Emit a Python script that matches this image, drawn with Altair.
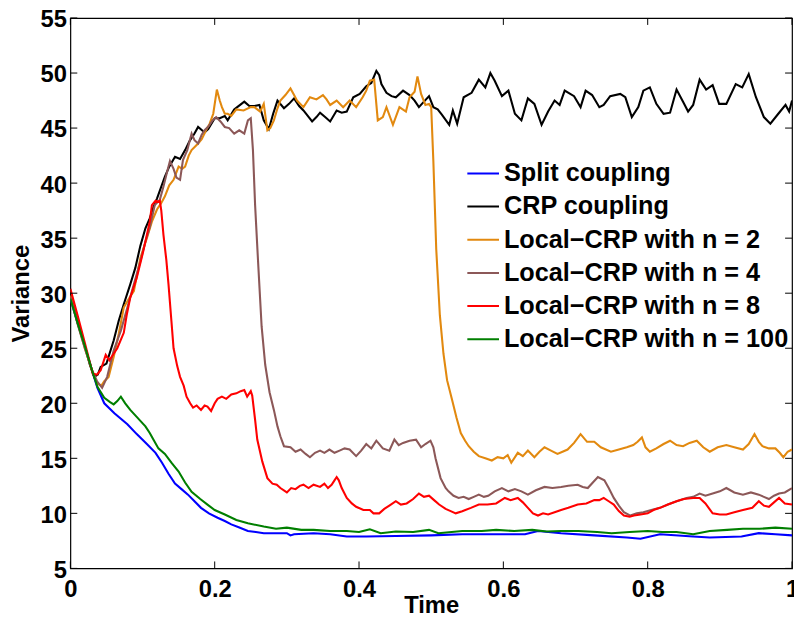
import altair as alt
import pandas as pd

SERIES = [
    "Split coupling",
    "CRP coupling",
    "Local\u2212CRP with n = 2",
    "Local\u2212CRP with n = 4",
    "Local\u2212CRP with n = 8",
    "Local\u2212CRP with n = 100",
]
COLORS = ["#0000FF", "#000000", "#E2890F", "#8C5858", "#FF0000", "#007F00"]

XTICKS = [0, 0.2, 0.4, 0.6, 0.8, 1]
YTICKS = [5, 10, 15, 20, 25, 30, 35, 40, 45, 50, 55]

split_t = [0, 0.01, 0.02, 0.03, 0.0375, 0.047, 0.061, 0.079, 0.092, 0.106, 0.118, 0.127, 0.136, 0.145,
           0.154, 0.163, 0.172, 0.181, 0.192, 0.204, 0.214, 0.223, 0.235, 0.246, 0.257, 0.268, 0.285,
           0.3, 0.305, 0.31, 0.337, 0.36, 0.383, 0.41, 0.451, 0.5, 0.543, 0.59, 0.63, 0.648, 0.68,
           0.726, 0.771, 0.79, 0.817, 0.863, 0.886, 0.93, 0.954, 0.977, 1.0]
split_v = [29.5, 27.3, 25.2, 23.0, 21.4, 20.0, 19.1, 18.1, 17.2, 16.3, 15.5, 14.6, 13.6, 12.7,
           12.2, 11.7, 11.1, 10.5, 10.0, 9.6, 9.3, 9.0, 8.7, 8.4, 8.3, 8.2, 8.2,
           8.2, 8.0, 8.1, 8.2, 8.1, 7.9, 7.9, 7.95, 8.0, 8.1, 8.1, 8.1, 8.4, 8.2,
           8.0, 7.8, 7.7, 8.1, 7.9, 7.8, 7.9, 8.2, 8.1, 8.0]

crp_t = [0, 0.01, 0.02, 0.027, 0.033, 0.038, 0.042, 0.05, 0.06, 0.067, 0.074, 0.083, 0.09, 0.097,
         0.104, 0.11, 0.115, 0.12, 0.125, 0.131, 0.137, 0.145, 0.152, 0.159, 0.165, 0.172, 0.177,
         0.186, 0.191, 0.2, 0.207, 0.214, 0.218, 0.227, 0.233, 0.241, 0.248, 0.255, 0.262, 0.268,
         0.275, 0.281, 0.287, 0.296, 0.303, 0.31, 0.317, 0.323, 0.335, 0.341, 0.346, 0.353, 0.36,
         0.369, 0.376, 0.383, 0.392, 0.401, 0.41, 0.417, 0.424, 0.428, 0.431, 0.438, 0.445, 0.451,
         0.461, 0.47, 0.477, 0.483, 0.49, 0.497, 0.503, 0.509, 0.515, 0.525, 0.53, 0.536, 0.545,
         0.556, 0.566, 0.575, 0.582, 0.588, 0.598, 0.607, 0.616, 0.625, 0.634, 0.643, 0.653, 0.662,
         0.671, 0.678, 0.685, 0.698, 0.707, 0.714, 0.723, 0.733, 0.739, 0.748, 0.762, 0.769, 0.778,
         0.787, 0.794, 0.803, 0.812, 0.822, 0.831, 0.84, 0.849, 0.856, 0.863, 0.872, 0.881, 0.89,
         0.899, 0.909, 0.922, 0.931, 0.94, 0.95, 0.961, 0.97, 0.981, 0.991, 0.996, 1.0]
crp_v = [30.0, 27.5, 25.2, 23.5, 22.4, 22.6, 23.3, 23.6, 25.7, 27.5, 29.0, 30.8, 32.3, 34.3,
         35.9, 36.8, 37.8, 38.6, 39.5, 40.6, 41.5, 42.4, 42.2, 43.0, 43.8, 44.5, 45.1,
         44.6, 44.9, 45.9, 45.9, 46.1, 45.7, 46.7, 47.0, 47.4, 47.0, 47.0, 47.1, 45.7,
         44.9, 46.3, 47.5, 46.8, 47.2, 47.7, 47.0, 46.6, 45.6, 46.0, 46.4, 46.0, 45.6,
         46.6, 46.4, 46.5, 47.8, 48.1, 48.8, 49.1, 50.2, 49.8, 49.0, 48.2, 47.9, 47.8,
         48.4, 48.0, 47.5, 46.9, 47.4, 47.9, 46.9, 46.7, 46.2, 45.3, 46.6, 45.4, 47.8,
         48.2, 49.4, 48.7, 50.0, 49.3, 47.9, 48.4, 46.3, 45.7, 47.7, 47.2, 45.3, 46.5,
         47.5, 47.1, 48.4, 47.9, 46.9, 48.4, 48.0, 46.9, 47.1, 47.9, 48.1, 47.8, 46.0,
         46.9, 48.4, 48.7, 47.2, 46.3, 46.4, 48.5, 47.4, 46.5, 47.1, 49.4, 48.5, 48.9,
         47.2, 47.2, 49.0, 48.7, 49.9, 47.8, 46.0, 45.4, 46.3, 47.1, 46.5, 47.5]

n2_t = [0, 0.01, 0.02, 0.03, 0.037, 0.043, 0.047, 0.053, 0.06, 0.067, 0.074, 0.081, 0.088, 0.097,
        0.106, 0.113, 0.12, 0.126, 0.131, 0.137, 0.143, 0.15, 0.155, 0.159, 0.164, 0.168, 0.177,
        0.182, 0.188, 0.193, 0.198, 0.203, 0.207, 0.21, 0.214, 0.218, 0.223, 0.23, 0.24, 0.25,
        0.255, 0.263, 0.268, 0.273, 0.277, 0.282, 0.287, 0.291, 0.298, 0.305, 0.31, 0.314, 0.323,
        0.332, 0.341, 0.35, 0.355, 0.36, 0.369, 0.378, 0.387, 0.396, 0.405, 0.41, 0.415, 0.421,
        0.426, 0.433, 0.438, 0.447, 0.456, 0.465, 0.47, 0.477, 0.481, 0.486, 0.492, 0.497, 0.5,
        0.503, 0.507, 0.512, 0.517, 0.522, 0.529, 0.535, 0.541, 0.547, 0.552, 0.559, 0.566, 0.575,
        0.584, 0.592, 0.6, 0.606, 0.611, 0.62, 0.627, 0.634, 0.643, 0.65, 0.657, 0.666, 0.675,
        0.682, 0.689, 0.698, 0.707, 0.716, 0.726, 0.735, 0.749, 0.76, 0.771, 0.78, 0.786, 0.792,
        0.797, 0.803, 0.812, 0.822, 0.831, 0.84, 0.849, 0.858, 0.868, 0.877, 0.886, 0.897, 0.909,
        0.92, 0.932, 0.94, 0.948, 0.954, 0.959, 0.968, 0.977, 0.983, 0.988, 0.994, 1.0]
n2_v = [29.8, 27.3, 25.0, 23.0, 21.8, 21.6, 22.0, 22.4, 24.2, 26.3, 28.7, 29.5, 30.2, 33.2,
        35.0, 36.5, 37.6, 38.2, 38.8, 39.8, 40.3, 41.5, 41.3, 41.5, 42.5, 43.0, 43.6,
        44.0, 44.8, 45.4, 46.3, 48.5, 47.5, 46.9, 46.3, 46.3, 46.1, 46.7, 46.6, 46.9,
        46.9, 46.5, 47.2, 44.8, 45.0, 45.7, 46.8, 47.5, 48.0, 48.6, 48.0, 47.5, 46.9,
        47.8, 47.6, 48.0, 47.6, 47.1, 47.5, 46.9, 47.5, 46.9, 47.8, 48.4, 49.3, 49.4,
        45.7, 46.0, 46.9, 45.3, 46.9, 46.5, 47.8, 48.3, 49.7, 48.1, 47.1, 47.2, 46.9,
        42.0, 34.0, 28.0, 24.5, 22.1, 20.3, 18.7, 17.3, 16.6, 16.1, 15.6, 15.2, 15.0,
        14.8, 15.1, 15.0, 15.3, 14.6, 15.5, 15.2, 15.7, 15.1, 15.6, 16.0, 15.7, 15.4,
        15.6, 15.8, 16.4, 17.2, 16.5, 16.5, 16.0, 15.6, 15.8, 16.0, 16.2, 16.5, 16.9,
        16.0, 15.6, 15.9, 16.3, 16.6, 16.2, 16.1, 16.4, 16.6, 16.0, 15.6, 16.0, 16.2,
        16.0, 15.8, 16.3, 17.2, 16.5, 16.1, 15.9, 15.9, 15.5, 15.1, 15.6, 15.8]

n4_t = [0, 0.01, 0.02, 0.03, 0.037, 0.044, 0.051, 0.06, 0.07, 0.079, 0.088, 0.097, 0.104, 0.11,
        0.117, 0.124, 0.129, 0.134, 0.138, 0.143, 0.147, 0.152, 0.156, 0.162, 0.168, 0.172, 0.177,
        0.182, 0.186, 0.192, 0.197, 0.202, 0.208, 0.214, 0.22, 0.227, 0.234, 0.241, 0.246, 0.25,
        0.253, 0.256, 0.26, 0.265, 0.27, 0.276, 0.282, 0.287, 0.291, 0.296, 0.305, 0.312, 0.319,
        0.326, 0.332, 0.339, 0.346, 0.352, 0.359, 0.366, 0.373, 0.38, 0.387, 0.396, 0.403, 0.41,
        0.417, 0.424, 0.433, 0.442, 0.449, 0.455, 0.461, 0.47, 0.479, 0.486, 0.492, 0.499, 0.503,
        0.506, 0.513, 0.52, 0.524, 0.531, 0.538, 0.545, 0.552, 0.559, 0.566, 0.573, 0.579, 0.588,
        0.598, 0.607, 0.616, 0.625, 0.634, 0.645, 0.657, 0.668, 0.68, 0.69, 0.703, 0.71, 0.717,
        0.724, 0.731, 0.74, 0.746, 0.753, 0.76, 0.767, 0.776, 0.785, 0.794, 0.805, 0.817, 0.828,
        0.84, 0.854, 0.863, 0.872, 0.88, 0.89, 0.9, 0.909, 0.92, 0.932, 0.943, 0.954, 0.961, 0.968,
        0.975, 0.982, 0.99, 1.0]
n4_v = [29.7, 27.2, 25.0, 23.0, 22.0, 21.4, 22.4, 24.8, 26.6, 28.7, 30.8, 32.9, 34.7, 36.0,
        38.0, 38.5, 39.7, 41.0, 42.0, 41.3, 40.5, 40.3, 42.1, 43.0, 44.5, 43.9, 43.6,
        44.4, 44.8, 45.2, 45.7, 46.0, 45.6, 45.1, 45.0, 44.5, 44.8, 44.5, 45.7, 45.9,
        43.0, 38.0, 33.0, 27.0, 23.5, 21.0, 19.4, 17.9, 17.0, 16.1, 16.0, 15.6, 15.8,
        15.4, 15.1, 15.5, 15.7, 15.5, 15.8, 15.5, 15.7, 15.9, 15.8, 15.2, 15.7, 16.3,
        15.9, 16.6, 15.9, 15.7, 16.7, 16.2, 16.4, 16.6, 16.7, 16.0, 16.3, 16.6, 16.0,
        15.0, 13.2, 12.3, 12.0, 11.6, 11.4, 11.5, 11.3, 11.5, 11.7, 11.5, 11.6, 12.0,
        12.3, 12.0, 12.2, 12.0, 11.7, 12.1, 12.4, 12.3, 12.4, 12.5, 12.6, 12.4, 12.3,
        12.8, 13.3, 13.0, 12.3, 11.4, 10.7, 10.1, 9.8, 10.0, 10.1, 10.3, 10.5, 10.8,
        11.1, 11.4, 11.5, 11.8, 11.6, 11.8, 12.0, 12.3, 11.9, 11.7, 11.9, 11.7, 11.5, 11.3,
        11.6, 11.8, 11.9, 12.3]

n8_t = [0, 0.01, 0.02, 0.031, 0.037, 0.042, 0.049, 0.054, 0.06, 0.065, 0.074, 0.078, 0.083, 0.092,
        0.101, 0.11, 0.113, 0.118, 0.122, 0.124, 0.126, 0.129, 0.133, 0.136, 0.14, 0.143, 0.148,
        0.152, 0.157, 0.161, 0.166, 0.17, 0.175, 0.181, 0.186, 0.19, 0.195, 0.2, 0.204, 0.21,
        0.216, 0.223, 0.23, 0.236, 0.241, 0.245, 0.25, 0.252, 0.256, 0.259, 0.266, 0.273, 0.28,
        0.286, 0.291, 0.3, 0.306, 0.312, 0.318, 0.323, 0.33, 0.337, 0.346, 0.352, 0.357, 0.362,
        0.366, 0.369, 0.372, 0.376, 0.383, 0.39, 0.396, 0.406, 0.415, 0.42, 0.428, 0.435, 0.442,
        0.451, 0.458, 0.466, 0.475, 0.483, 0.49, 0.497, 0.504, 0.511, 0.52, 0.527, 0.534, 0.543,
        0.555, 0.566, 0.578, 0.59, 0.602, 0.61, 0.62, 0.627, 0.634, 0.641, 0.648, 0.655, 0.662,
        0.671, 0.68, 0.69, 0.703, 0.715, 0.726, 0.733, 0.739, 0.746, 0.753, 0.76, 0.767, 0.775,
        0.781, 0.79, 0.8, 0.808, 0.817, 0.828, 0.84, 0.85, 0.863, 0.872, 0.88, 0.89, 0.9, 0.909,
        0.92, 0.932, 0.945, 0.954, 0.961, 0.968, 0.975, 0.982, 0.99, 1.0]
n8_v = [30.4, 28.0, 25.5, 22.7, 22.6, 23.0, 24.4, 23.9, 24.5, 25.0, 26.4, 28.0, 29.6, 31.4,
        33.8, 36.5, 38.0, 38.4, 38.3, 38.4, 37.5, 35.3, 33.0, 30.8, 27.5, 25.0, 23.4,
        22.4, 21.6, 20.6, 20.0, 19.6, 19.8, 19.4, 19.8, 19.7, 19.3, 20.0, 20.4, 20.6,
        20.4, 20.8, 20.9, 21.1, 21.2, 20.6, 21.1, 20.7, 18.5, 16.7, 14.7, 13.2, 12.7,
        12.6, 12.3, 11.9, 12.3, 12.2, 12.5, 12.6, 12.3, 12.6, 12.4, 12.7, 12.3, 12.6,
        13.0, 13.3, 13.0, 12.3, 11.4, 10.9, 10.6, 10.3, 10.3, 10.0, 10.0, 10.4, 10.7,
        11.1, 10.8, 10.9, 11.3, 11.8, 11.5, 11.6, 11.2, 10.8, 10.4, 10.2, 10.0, 10.2,
        10.5, 10.8, 10.8, 10.9, 11.4, 11.2, 11.4, 11.0, 10.5, 10.0, 9.8, 10.0, 9.9,
        10.1, 10.3, 10.5, 10.8, 10.9, 11.2, 11.2, 11.4, 11.1, 10.8, 10.2, 9.8, 9.7,
        9.8, 9.9, 10.0, 10.3, 10.5, 10.8, 11.1, 11.3, 11.4, 11.4, 10.9, 10.0, 9.9, 9.9,
        10.1, 10.3, 10.5, 11.1, 10.7, 10.6, 11.0, 11.4, 10.9, 10.8]

n100_t = [0, 0.01, 0.02, 0.03, 0.0375, 0.047, 0.055, 0.06, 0.065, 0.07, 0.076, 0.083, 0.09, 0.097,
          0.104, 0.11, 0.116, 0.122, 0.131, 0.14, 0.15, 0.159, 0.168, 0.18, 0.19, 0.2, 0.214,
          0.23, 0.246, 0.268, 0.285, 0.3, 0.32, 0.337, 0.36, 0.383, 0.4, 0.415, 0.43, 0.451,
          0.475, 0.497, 0.51, 0.543, 0.57, 0.59, 0.615, 0.64, 0.66, 0.68, 0.704, 0.73, 0.75,
          0.775, 0.8, 0.82, 0.84, 0.863, 0.886, 0.91, 0.932, 0.955, 0.977, 1.0]
n100_v = [29.5, 27.3, 25.2, 23.0, 21.5, 20.5, 20.1, 19.9, 20.2, 20.6, 20.0, 19.4, 18.9, 18.4,
          17.9, 17.3, 16.6, 15.9, 15.4, 14.6, 13.8, 12.8, 11.95, 11.3, 10.8, 10.3, 9.9,
          9.4, 9.1, 8.8, 8.6, 8.7, 8.5, 8.5, 8.4, 8.4, 8.3, 8.55, 8.2, 8.35,
          8.3, 8.5, 8.2, 8.4, 8.4, 8.5, 8.4, 8.5, 8.35, 8.4, 8.4, 8.3, 8.2,
          8.3, 8.4, 8.3, 8.3, 8.1, 8.4, 8.5, 8.6, 8.6, 8.7, 8.6]

TS = [split_t, crp_t, n2_t, n4_t, n8_t, n100_t]
VS = [split_v, crp_v, n2_v, n4_v, n8_v, n100_v]

frames = []
for name, ts, vs in zip(SERIES, TS, VS):
    frames.append(pd.DataFrame({"t": ts, "v": vs, "series": name}))
df = pd.concat(frames, ignore_index=True)

W, H = 729, 556
TL = 7
FONT = "Liberation Sans"

xscale = alt.Scale(domain=[0, 1], nice=False, zero=False)
yscale = alt.Scale(domain=[5, 55], nice=False, zero=False)

xaxis = alt.Axis(values=XTICKS, format="~g", ticks=False, domain=False, grid=False,
                 labelPadding=9, labelFlush=False,
                 titleY=45, titleBaseline="alphabetic")
yaxis = alt.Axis(values=YTICKS, ticks=False, domain=False, grid=False,
                 labelPadding=4, labelFlush=False, labelOffset=2, titlePadding=7)

lines = alt.Chart(df).mark_line(strokeWidth=2.1, clip=True).encode(
    x=alt.X("t:Q", scale=xscale, title="Time", axis=xaxis),
    y=alt.Y("v:Q", scale=yscale, title="Variance", axis=yaxis),
    color=alt.Color("series:N", sort=SERIES,
                    scale=alt.Scale(domain=SERIES, range=COLORS),
                    legend=alt.Legend(title=None, orient="none", legendX=400, legendY=140,
                                      direction="vertical", symbolType="stroke", symbolSize=1024,
                                      symbolStrokeWidth=2, labelFont=FONT, labelFontSize=25.5,
                                      labelFontWeight="bold", labelColor="black", labelOffset=4,
                                      rowPadding=2.5, padding=0, labelLimit=500)),
)

xt = pd.DataFrame({"t": XTICKS})
yt = pd.DataFrame({"v": YTICKS})

xb = alt.Chart(xt).mark_rule(color="black", strokeWidth=1).encode(
    x=alt.X("t:Q", scale=xscale, title="Time", axis=xaxis), y=alt.value(H), y2=alt.value(H - TL))
xtop = alt.Chart(xt).mark_rule(color="black", strokeWidth=1).encode(
    x=alt.X("t:Q", scale=xscale, title="Time", axis=xaxis), y=alt.value(0), y2=alt.value(TL))
yl = alt.Chart(yt).mark_rule(color="black", strokeWidth=1).encode(
    y=alt.Y("v:Q", scale=yscale, title="Variance", axis=yaxis), x=alt.value(0), x2=alt.value(TL))
yr = alt.Chart(yt).mark_rule(color="black", strokeWidth=1).encode(
    y=alt.Y("v:Q", scale=yscale, title="Variance", axis=yaxis), x=alt.value(W), x2=alt.value(W - TL))

chart = alt.layer(lines, xb, xtop, yl, yr).properties(
    width=W, height=H,
    autosize=alt.AutoSizeParams(type="none"),
    padding={"left": 63, "top": 7, "right": 2, "bottom": 46},
).configure_view(
    stroke="black", strokeWidth=1.2
).configure_axis(
    labelFont=FONT, labelFontSize=24, labelFontWeight="bold", labelColor="black",
    titleFont=FONT, titleFontSize=24, titleFontWeight="bold", titleColor="black",
)

chart.save("out.html", embed_options={"renderer": "svg", "actions": False})
